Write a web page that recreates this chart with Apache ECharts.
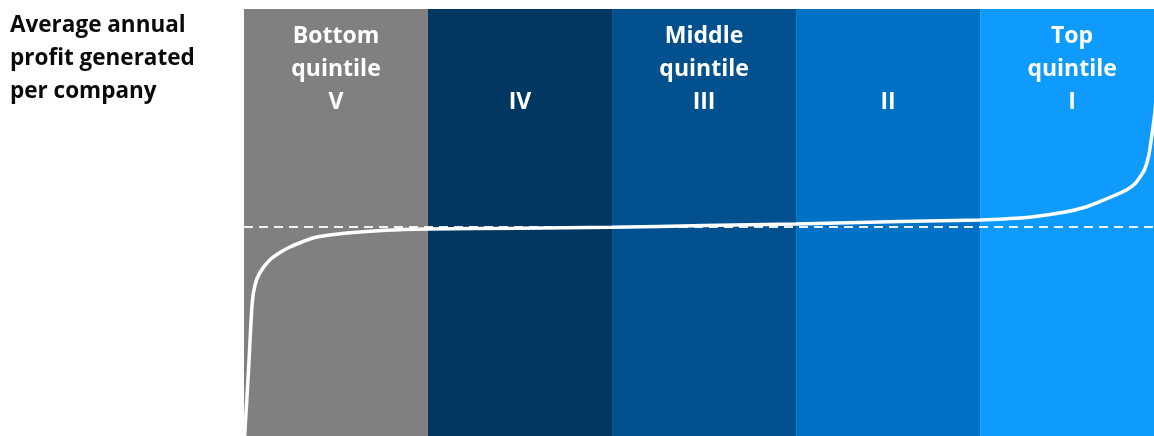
<!DOCTYPE html>
<html>
<head>
<meta charset="utf-8">
<script src="https://cdn.jsdelivr.net/npm/echarts@6/dist/echarts.min.js"></script>
<style>
html,body{margin:0;padding:0;background:#fff;}
#chart{width:1154px;height:436px;}
</style>
</head>
<body>
<div id="chart"></div>
<script>
// Quintile bands (percentile ranges of companies)
const bandStarts = [0, 20, 40, 60, 80];
const bandEnds = [20, 40, 60, 80, 100];
const bandLabels = ['Bottom\nquintile\nV', '\n\nIV', 'Middle\nquintile\nIII', '\n\nII', 'Top\nquintile\nI'];
const bandColors = ['#808080', '#023761', '#02508D', '#0071C5', '#0E9BFD'];

// Profit curve: percentile of companies vs. average annual profit (indexed, 0 = dashed baseline)
const pctiles = [0.05, 0.5, 0.9, 1.2, 1.7, 2.8, 4.0, 5.0, 6.3, 7.5, 9.3, 11.2, 15, 20, 30, 40, 50, 60, 71.3, 80, 83, 85.8, 89.4, 91.3, 93.0, 94.6, 95.9, 96.8, 97.4, 97.9, 98.3, 98.7, 99.0, 99.3];
const profits = [-212, -142, -75, -58, -46, -33, -25, -20, -15, -11, -8, -6, -3.5, -2, -1.2, -0.3, 1.4, 3, 5.5, 7, 8.3, 10.3, 15.3, 19.5, 25.3, 31.5, 37, 43, 50.3, 58, 70.3, 94, 115, 150];

const baseline = 0;
const yTitle = 'Average annual\nprofit generated\nper company';

const chart = echarts.init(document.getElementById('chart'));
const labelFont = '"Open Sans", Lato, sans-serif';
chart.setOption({
  animation: false,
  backgroundColor: '#fff',
  title: {
    text: yTitle,
    left: 5, top: 4,
    textStyle: {color: '#0a0a0a', fontSize: 22.5, fontWeight: 'bold', fontFamily: labelFont, lineHeight: 33}
  },
  grid: {left: 244, right: 0, top: 9, bottom: 0},
  xAxis: {type: 'value', min: 0, max: 98.9, show: false},
  yAxis: {type: 'value', min: -209, max: 218, show: false},
  series: [
    {
      type: 'line',
      data: pctiles.map((p, i) => [p, profits[i]]),
      smooth: 0.3,
      symbol: 'none',
      clip: true,
      z: 5,
      lineStyle: {color: '#fff', width: 3.5},
      markArea: {
        silent: true,
        data: bandStarts.map((s, i) => [
          {xAxis: s, itemStyle: {color: bandColors[i], opacity: 1}},
          {xAxis: bandEnds[i]}
        ])
      },
      markLine: {
        silent: true,
        symbol: 'none',
        label: {show: false},
        lineStyle: {color: '#fff', width: 2, type: [9, 6], opacity: 0.9},
        data: [{yAxis: baseline}]
      }
    },
    {
      type: 'scatter',
      symbolSize: 0,
      z: 10,
      silent: true,
      itemStyle: {opacity: 1, color: 'transparent'},
      data: bandStarts.map((s, i) => [(s + bandEnds[i]) / 2, 218]),
      label: {
        show: true,
        position: 'bottom',
        distance: 11,
        formatter: p => bandLabels[p.dataIndex],
        color: '#ffffff',
        opacity: 1,
        fontSize: 23,
        fontWeight: 'bold',
        fontFamily: labelFont,
        lineHeight: 33,
        align: 'center'
      }
    }
  ]
});
</script>
</body>
</html>
